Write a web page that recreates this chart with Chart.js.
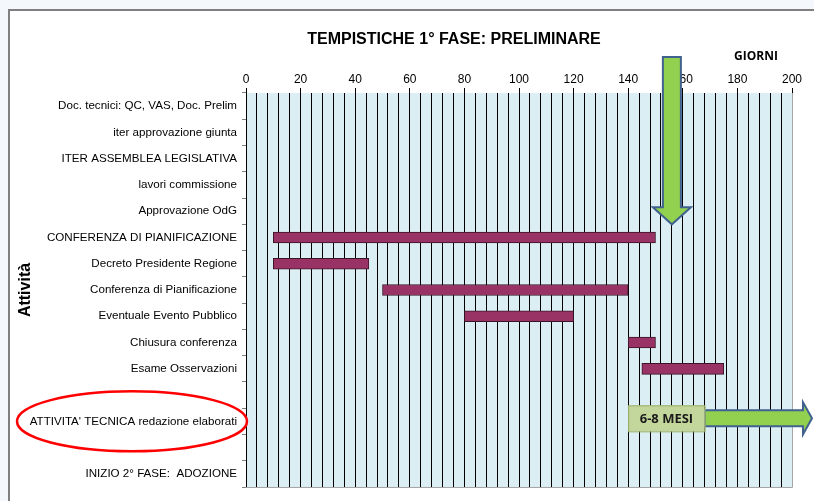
<!DOCTYPE html>
<html>
<head>
<meta charset="utf-8">
<script src="https://cdn.jsdelivr.net/npm/chart.js@4"></script>
<style>
  html, body { margin: 0; padding: 0; background: #f4f7fb; }
  #wrap { width: 814px; height: 501px; position: relative; }
</style>
</head>
<body>
<div id="wrap"><canvas id="chart" width="814" height="501"></canvas></div>
<script>
const categories = [
  "Doc. tecnici: QC, VAS, Doc. Prelim",
  "iter approvazione giunta",
  "ITER ASSEMBLEA LEGISLATIVA",
  "lavori commissione",
  "Approvazione OdG",
  "CONFERENZA DI PIANIFICAZIONE",
  "Decreto Presidente Regione",
  "Conferenza di Pianificazione",
  "Eventuale Evento Pubblico",
  "Chiusura conferenza",
  "Esame Osservazioni",
  "",
  "ATTIVITA' TECNICA redazione elaborati",
  "",
  "INIZIO 2° FASE:  ADOZIONE",
];
const startDays = [null, null, null, null, null, 10, 10, 50, 80, 140, 145, null, null, null, null];
const endDays = [null, null, null, null, null, 150, 45, 140, 120, 150, 175, null, null, null, null];
const xTicks = [0, 20, 40, 60, 80, 100, 120, 140, 160, 180, 200];

const chartTitle = "TEMPISTICHE 1° FASE: PRELIMINARE";
const xTitle = "GIORNI";
const durationLabel = "6-8 MESI";

// sfondo foglio, cornice del grafico, area blu
const framePlugin = {
  id: "frame",
  beforeDraw(chart) {
    const { ctx, chartArea: a } = chart;
    ctx.save();
    ctx.fillStyle = "#f4f7fb";
    ctx.fillRect(0, 0, chart.width, chart.height);
    ctx.fillStyle = "#ffffff";
    ctx.fillRect(9, 10, 805, 491);
    ctx.strokeStyle = "#7f7f7f";
    ctx.lineWidth = 2;
    ctx.beginPath();
    ctx.moveTo(9, 501);
    ctx.lineTo(9, 10);
    ctx.lineTo(814, 10);
    ctx.stroke();
    ctx.fillStyle = "#dbeef3";
    ctx.fillRect(a.left, a.top, a.right - a.left, a.bottom - a.top);
    ctx.restore();
  },
  afterDraw(chart) {
    const { ctx, chartArea: a, scales } = chart;
    const x = scales.x, y = scales.y;
    ctx.save();
    // bordo inferiore e destro grigio
    ctx.strokeStyle = "#a6a6a6";
    ctx.lineWidth = 1;
    ctx.beginPath();
    ctx.moveTo(a.left, a.bottom + 0.5);
    ctx.lineTo(a.right + 0.5, a.bottom + 0.5);
    ctx.lineTo(a.right + 0.5, a.top);
    ctx.stroke();

    // titolo e titolo asse x
    ctx.fillStyle = "#000";
    ctx.font = "bold 16px 'Liberation Sans', Arial, sans-serif";
    ctx.textAlign = "center";
    ctx.textBaseline = "middle";
    ctx.fillText(chartTitle, 454, 40);
    ctx.font = "bold 12px 'Open Sans', 'Liberation Sans', sans-serif";
    ctx.fillText(xTitle, 756, 57);

    // freccia verde verso il basso
    const cx = x.getPixelForValue(156);
    const tip = (y.getPixelForValue(4) + y.getPixelForValue(5)) / 2;
    ctx.fillStyle = "#92d050";
    ctx.strokeStyle = "#41628f";
    ctx.lineWidth = 2;
    ctx.lineJoin = "miter";
    ctx.beginPath();
    ctx.moveTo(cx - 9, 57);
    ctx.lineTo(cx + 9, 57);
    ctx.lineTo(cx + 9, tip - 17);
    ctx.lineTo(cx + 19, tip - 17);
    ctx.lineTo(cx, tip);
    ctx.lineTo(cx - 19, tip - 17);
    ctx.lineTo(cx - 9, tip - 17);
    ctx.closePath();
    ctx.fill();
    ctx.stroke();

    // riquadro "6-8 MESI" e freccia verso destra
    const rowY = y.getPixelForValue(12) - 3;
    const bx0 = x.getPixelForValue(140), bx1 = x.getPixelForValue(168);
    ctx.beginPath();
    ctx.moveTo(bx1, rowY - 8);
    ctx.lineTo(803, rowY - 8);
    ctx.lineTo(803, rowY - 16);
    ctx.lineTo(812, rowY);
    ctx.lineTo(803, rowY + 16);
    ctx.lineTo(803, rowY + 8);
    ctx.lineTo(bx1, rowY + 8);
    ctx.closePath();
    ctx.fill();
    ctx.stroke();
    ctx.fillStyle = "#c3d69b";
    ctx.strokeStyle = "#9bb06a";
    ctx.lineWidth = 1;
    ctx.fillRect(bx0, rowY - 13, bx1 - bx0, 26);
    ctx.strokeRect(bx0 + 0.5, rowY - 12.5, bx1 - bx0, 26);
    ctx.fillStyle = "#1a1a1a";
    ctx.font = "bold 13px 'Open Sans', 'Liberation Sans', sans-serif";
    ctx.fillText(durationLabel, (bx0 + bx1) / 2, rowY + 1);

    // ellisse rossa intorno all'attività tecnica
    ctx.strokeStyle = "#ff0000";
    ctx.lineWidth = 2.5;
    ctx.beginPath();
    ctx.ellipse(132, y.getPixelForValue(12), 115, 30, 0, 0, Math.PI * 2);
    ctx.stroke();
    ctx.restore();
  },
};

new Chart(document.getElementById("chart"), {
  type: "bar",
  data: {
    labels: categories,
    datasets: [
      {
        data: startDays.map((s, i) => (s === null ? null : [s, endDays[i]])),
        backgroundColor: "#993366",
        borderColor: "#3a1526",
        borderWidth: 1,
        borderSkipped: false,
        barThickness: 11,
      },
    ],
  },
  options: {
    indexAxis: "y",
    responsive: false,
    animation: false,
    layout: { padding: { left: 10, top: 46, right: 22, bottom: 14 } },
    plugins: {
      legend: { display: false },
      tooltip: { enabled: false },
    },
    scales: {
      x: {
        position: "top",
        min: 0,
        max: 200,
        afterFit: (s) => { s.height = 47; },
        afterBuildTicks: (s) => {
          s.ticks = [];
          for (let v = 0; v <= 200; v += 4) s.ticks.push({ value: v });
        },
        ticks: {
          autoSkip: false,
          maxRotation: 0,
          padding: 1,
          color: "#000",
          font: { family: "'Liberation Sans', Arial, sans-serif", size: 12 },
          callback: (v) => (xTicks.includes(v) ? String(v) : ""),
        },
        grid: {
          color: "#000",
          lineWidth: 1,
          tickLength: 5,
          tickColor: (c) => (xTicks.includes(c.tick.value) ? "#000" : "rgba(0,0,0,0)"),
        },
        border: { display: false },
      },
      y: {
        afterFit: (s) => { s.width = 236; },
        ticks: {
          autoSkip: false,
          padding: 5,
          color: "#000",
          font: { family: "'Liberation Sans', Arial, sans-serif", size: 11.6 },
        },
        grid: {
          offset: true,
          drawOnChartArea: false,
          tickLength: 4,
          tickColor: "#808080",
        },
        border: { display: true, color: "#000", width: 1 },
        title: {
          display: true,
          text: "Attività",
          color: "#000",
          padding: { top: 6, bottom: 0 },
          font: { family: "'Liberation Sans', Arial, sans-serif", size: 16, weight: "bold" },
        },
      },
    },
  },
  plugins: [framePlugin],
});
</script>
</body>
</html>
